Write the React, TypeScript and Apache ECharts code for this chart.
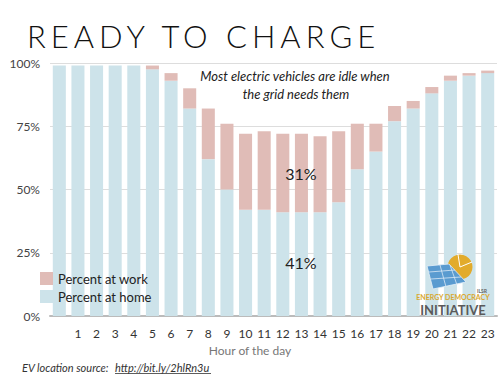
import React, { useEffect, useRef } from "react";
import * as echarts from "echarts";

const hourLabels = ["", "1", "2", "3", "4", "5", "6", "7", "8", "9", "10", "11", "12", "13", "14", "15", "16", "17", "18", "19", "20", "21", "22", "23"];
const homePct = [99, 99, 99, 99, 99, 97.5, 93, 82, 62, 50, 42, 42, 41, 41, 41, 45, 58, 65, 77, 82, 88, 93, 95, 96];
const workPct = [0, 0, 0, 0, 0, 1.5, 3, 8, 20, 26, 30, 31, 31, 31, 30, 28, 18, 11, 6, 3, 2.5, 2, 1, 1];
const yTicks = [0, 25, 50, 75, 100];

const titleText = "READY TO CHARGE";
const noteLines = ["Most electric vehicles are idle when", "the grid needs them"];
const workLabel = "31%";
const homeLabel = "41%";

const FONT = "Lato, 'Open Sans', sans-serif";
const HOME = "#cde3ea";
const WORK = "#e0bcb7";

export default function App() {
  const ref = useRef<HTMLDivElement>(null);
  useEffect(() => {
    if (!ref.current) return;
    const chart = echarts.init(ref.current, undefined, { renderer: "svg" });
    const graphics: any[] = [
      {
        type: "text",
        left: 27,
        top: 20,
        style: { text: titleText, fontSize: 31, fontWeight: 300, fill: "#111", fontFamily: FONT },
      },
      {
        type: "text",
        x: 295,
        y: 76,
        style: { text: noteLines[0], fontSize: 13, fontStyle: "italic", fill: "#222", align: "center", verticalAlign: "middle", fontFamily: FONT },
      },
      {
        type: "text",
        x: 296,
        y: 94,
        style: { text: noteLines[1], fontSize: 13, fontStyle: "italic", fill: "#222", align: "center", verticalAlign: "middle", fontFamily: FONT },
      },
      {
        type: "text",
        x: 301,
        y: 173,
        style: { text: workLabel, fontSize: 16, fill: "#222", align: "center", verticalAlign: "middle", fontFamily: FONT },
      },
      {
        type: "text",
        x: 301,
        y: 262,
        style: { text: homeLabel, fontSize: 16, fill: "#222", align: "center", verticalAlign: "middle", fontFamily: FONT },
      },
      {
        type: "text",
        x: 250,
        y: 350,
        style: { text: "Hour of the day", fontSize: 12, fill: "#777", align: "center", verticalAlign: "middle", fontFamily: FONT },
      },
      {
        type: "text",
        x: 22,
        y: 367,
        style: { text: "EV location source:", fontSize: 11, fontStyle: "italic", fill: "#333", verticalAlign: "middle", fontFamily: FONT },
      },
      {
        type: "text",
        x: 115,
        y: 367,
        style: { text: "http://bit.ly/2hlRn3u", fontSize: 11, fontStyle: "italic", fill: "#333", verticalAlign: "middle", fontFamily: FONT },
      },
      {
        type: "line",
        shape: { x1: 115, y1: 373.5, x2: 211, y2: 373.5 },
        style: { stroke: "#333", lineWidth: 0.8 },
      },
      // logo
      {
        type: "circle",
        shape: { cx: 460, cy: 267, r: 12.5 },
        style: { fill: "#e2ab2c" },
      },
      {
        type: "line",
        shape: { x1: 460, y1: 267, x2: 472, y2: 262 },
        style: { stroke: "#fff", lineWidth: 1 },
      },
      {
        type: "line",
        shape: { x1: 460, y1: 267, x2: 458, y2: 254.5 },
        style: { stroke: "#fff", lineWidth: 1 },
      },
      {
        type: "polygon",
        shape: { points: [[427, 266], [449, 264], [466, 282], [433, 289]] },
        style: { fill: "#5a9bd0", stroke: "#e6f0f8", lineWidth: 0.8 },
      },
      {
        type: "line",
        shape: { x1: 429, y1: 272, x2: 455, y2: 270 },
        style: { stroke: "#dbe9f5", lineWidth: 0.8 },
      },
      {
        type: "line",
        shape: { x1: 431, y1: 279, x2: 461, y2: 277 },
        style: { stroke: "#dbe9f5", lineWidth: 0.8 },
      },
      {
        type: "line",
        shape: { x1: 440, y1: 265, x2: 446, y2: 287 },
        style: { stroke: "#dbe9f5", lineWidth: 0.8 },
      },
      {
        type: "line",
        shape: { x1: 450, y1: 265, x2: 457, y2: 285 },
        style: { stroke: "#dbe9f5", lineWidth: 0.8 },
      },
      {
        type: "text",
        x: 487,
        y: 291,
        style: { text: "ILSR", fontSize: 5, fontWeight: "bold", fill: "#666", align: "right", verticalAlign: "middle", fontFamily: FONT },
      },
      {
        type: "text",
        x: 453,
        y: 297,
        style: { text: "ENERGY DEMOCRACY", fontSize: 7, fontWeight: "bold", fill: "#d9a830", align: "center", verticalAlign: "middle", fontFamily: FONT },
      },
      {
        type: "text",
        x: 453,
        y: 309.5,
        style: { text: "INITIATIVE", fontSize: 13, fontWeight: "bold", fill: "#5a5a5a", align: "center", verticalAlign: "middle", fontFamily: FONT },
      },
    ];
    chart.setOption({
      animation: false,
      textStyle: { fontFamily: FONT },
      grid: { left: 50, right: 3, top: 63, bottom: 59 },
      legend: {
        orient: "vertical",
        left: 35,
        top: 267,
        itemWidth: 13,
        itemHeight: 13,
        itemGap: 5,
        icon: "rect",
        data: ["Percent at work", "Percent at home"],
        textStyle: { fontSize: 13, color: "#222", fontFamily: FONT },
      },
      xAxis: {
        type: "category",
        data: hourLabels,
        axisTick: { show: false },
        axisLine: { lineStyle: { color: "#bbbbbb", width: 2 } },
        axisLabel: { color: "#333", fontSize: 12, margin: 11, interval: 0 },
      },
      yAxis: {
        type: "value",
        min: yTicks[0],
        max: yTicks[yTicks.length - 1],
        interval: 25,
        axisLabel: { formatter: "{value}%", color: "#444", fontSize: 12, margin: 10 },
        splitLine: { lineStyle: { color: "#dddddd", width: 1 } },
        axisLine: { show: false },
        axisTick: { show: false },
      },
      series: [
        {
          name: "Percent at home",
          type: "bar",
          stack: "loc",
          data: homePct,
          barWidth: "70%",
          itemStyle: { color: HOME },
        },
        {
          name: "Percent at work",
          type: "bar",
          stack: "loc",
          data: workPct,
          barWidth: "70%",
          itemStyle: { color: WORK },
        },
      ],
      graphic: graphics.map((g) => ({ ...g, z: 100 })),
    });
    const texts = ref.current.querySelectorAll("text");
    texts.forEach((t) => {
      if (t.textContent === titleText) t.setAttribute("letter-spacing", "5");
    });
    return () => chart.dispose();
  }, []);
  return <div ref={ref} style={{ width: 500, height: 375, position: "absolute", left: 0, top: 0 }} />;
}
